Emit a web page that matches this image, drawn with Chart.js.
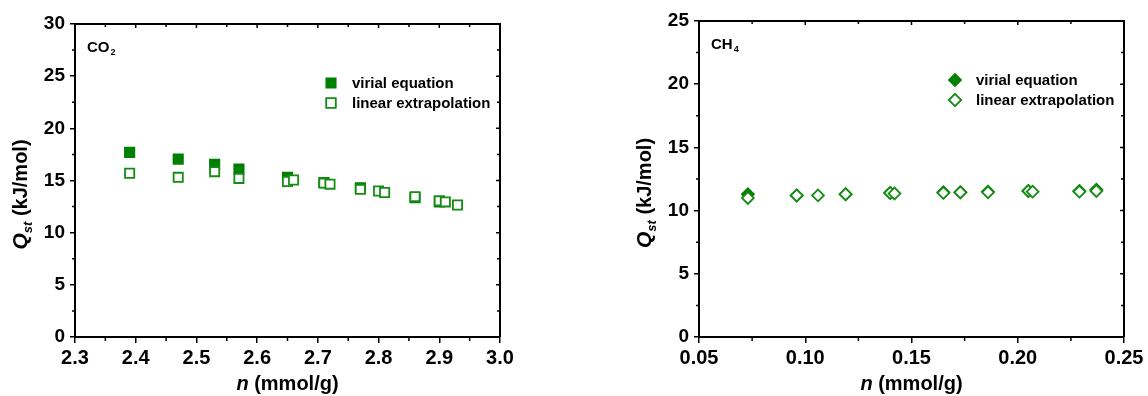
<!DOCTYPE html>
<html>
<head>
<meta charset="utf-8">
<script src="https://cdn.jsdelivr.net/npm/chart.js@4.4.0/dist/chart.umd.min.js"></script>
<style>
    html, body { margin: 0; padding: 0; background: #fff; }
    .panel { position: absolute; top: 0; width: 574px; height: 396px; }
    #co2-panel { left: 0; }
    #ch4-panel { left: 574px; }
</style>
</head>
<body>
<div class="panel" id="co2-panel"><canvas id="co2-chart"></canvas></div>
<div class="panel" id="ch4-panel"><canvas id="ch4-chart"></canvas></div>
<script>
    "use strict";

    // CO2 data (n in mmol/g, Qst in kJ/mol)
    const co2VirialN = [2.39, 2.47, 2.53, 2.57, 2.65, 2.71, 2.77, 2.86, 2.90];
    const co2VirialQ = [17.7, 17.05, 16.55, 16.1, 15.3, 14.8, 14.3, 13.35, 12.95];
    const co2LinearN = [2.39, 2.47, 2.53, 2.57, 2.65, 2.66, 2.71, 2.72, 2.77, 2.80, 2.81, 2.86, 2.90, 2.91, 2.93];
    const co2LinearQ = [15.7, 15.3, 15.85, 15.2, 14.9, 15.05, 14.75, 14.65, 14.15, 14.0, 13.85, 13.45, 13.05, 12.95, 12.65];

    // CH4 data
    const ch4VirialN = [0.073, 0.096, 0.119, 0.140, 0.165, 0.173, 0.186, 0.205, 0.229, 0.237];
    const ch4VirialQ = [11.3, 11.2, 11.3, 11.4, 11.45, 11.45, 11.5, 11.55, 11.55, 11.65];
    const ch4LinearN = [0.073, 0.096, 0.106, 0.119, 0.140, 0.142, 0.165, 0.173, 0.186, 0.205, 0.207, 0.229, 0.237];
    const ch4LinearQ = [11.0, 11.2, 11.2, 11.3, 11.4, 11.35, 11.4, 11.45, 11.45, 11.55, 11.5, 11.5, 11.55];

    // Axis ranges and labels
    const co2XRange = [2.3, 3.0, 0.1];
    const co2YRange = [0, 30, 5];
    const ch4XRange = [0.05, 0.25, 0.05];
    const ch4YRange = [0, 25, 5];
    const seriesNames = ['virial equation', 'linear extrapolation'];

    const FONT = '"Liberation Sans", Arial, sans-serif';
    const GREEN = 'rgb(0, 128, 0)';
    const GREEN_OPEN = 'rgb(20, 140, 20)';

    function toPoints(xs, ys) {
        return xs.map((v, i) => ({ x: v, y: ys[i] }));
    }

    // Draw a marker by hand (legend)
    function drawMarker(ctx, style, filled, x, y, r) {
        ctx.beginPath();
        if (style === 'rect') {
            const s = r * Math.SQRT1_2;
            ctx.rect(x - s, y - s, 2 * s, 2 * s);
        } else {
            ctx.moveTo(x - r, y);
            ctx.lineTo(x, y - r);
            ctx.lineTo(x + r, y);
            ctx.lineTo(x, y + r);
            ctx.closePath();
        }
        ctx.fillStyle = filled ? GREEN : '#fff';
        ctx.fill();
        ctx.lineWidth = filled ? 1.5 : 1.8;
        ctx.strokeStyle = filled ? GREEN : GREEN_OPEN;
        ctx.stroke();
    }

    // Draw pieces of text with different fonts one after another
    function drawRich(ctx, pieces, cx, cy, rotate) {
        ctx.save();
        ctx.translate(cx, cy);
        if (rotate) ctx.rotate(-Math.PI / 2);
        let total = 0;
        pieces.forEach(p => { ctx.font = p.font; total += ctx.measureText(p.t).width; });
        let x = -total / 2;
        ctx.fillStyle = '#000';
        ctx.textBaseline = 'alphabetic';
        ctx.textAlign = 'left';
        pieces.forEach(p => {
            ctx.font = p.font;
            ctx.fillText(p.t, x, p.dy || 0);
            x += ctx.measureText(p.t).width;
        });
        ctx.restore();
    }

    // Frame, mirrored ticks, minor ticks, titles, legend and species label
    const panelDecor = {
        id: 'panelDecor',
        afterDraw(chart, args, opts) {
            const { ctx, chartArea: a, scales: { x, y } } = chart;
            ctx.save();
            ctx.strokeStyle = '#000';
            ctx.lineWidth = 2;
            ctx.beginPath();
            ctx.moveTo(a.left, a.top);
            ctx.lineTo(a.right, a.top);
            ctx.lineTo(a.right, a.bottom);
            ctx.stroke();

            ctx.lineWidth = 1.5;
            ctx.beginPath();
            const xt = x.ticks.map(t => t.value);
            xt.forEach((v, i) => {
                const px = x.getPixelForValue(v);
                ctx.moveTo(px, a.top); ctx.lineTo(px, a.top + 4);
                if (i < xt.length - 1) {
                    const m = x.getPixelForValue((v + xt[i + 1]) / 2);
                    ctx.moveTo(m, a.bottom); ctx.lineTo(m, a.bottom + 4);
                    ctx.moveTo(m, a.top); ctx.lineTo(m, a.top + 3);
                }
            });
            const yt = y.ticks.map(t => t.value);
            yt.forEach((v, i) => {
                const py = y.getPixelForValue(v);
                ctx.moveTo(a.right, py); ctx.lineTo(a.right - 4, py);
                if (i < yt.length - 1) {
                    const m = y.getPixelForValue((v + yt[i + 1]) / 2);
                    ctx.moveTo(a.left, m); ctx.lineTo(a.left - 3, m);
                    ctx.moveTo(a.right, m); ctx.lineTo(a.right - 3, m);
                }
            });
            ctx.stroke();

            // axis titles
            drawRich(ctx, [
                { t: 'n', font: 'italic bold 20px ' + FONT },
                { t: ' (mmol/g)', font: 'bold 20px ' + FONT }
            ], (a.left + a.right) / 2, a.bottom + 53, false);
            drawRich(ctx, [
                { t: 'Q', font: 'italic bold 21px ' + FONT },
                { t: 'st', font: 'italic bold 13px ' + FONT, dy: 5 },
                { t: ' (kJ/mol)', font: 'bold 20px ' + FONT }
            ], a.left - 48, (a.top + a.bottom) / 2 + 14, true);

            // species label
            ctx.fillStyle = '#000';
            ctx.textAlign = 'left';
            ctx.textBaseline = 'alphabetic';
            ctx.font = 'bold 15px ' + FONT;
            const lx = a.left + 12, ly = a.top + 28;
            ctx.fillText(opts.species, lx, ly);
            const w = ctx.measureText(opts.species).width;
            ctx.font = 'bold 9px ' + FONT;
            ctx.fillText(opts.sub, lx + w + 1, ly + 3);

            // legend
            ctx.font = 'bold 15px ' + FONT;
            ctx.textBaseline = 'middle';
            seriesNames.forEach((name, i) => {
                const my = a.top + 59 + i * 20;
                const mx = a.right - 169;
                drawMarker(ctx, opts.marker, i === 0, mx, my, opts.marker === 'rect' ? 6.8 : 6.2);
                ctx.fillStyle = '#000';
                ctx.fillText(name, mx + 21, my + 1);
            });
            ctx.restore();
        }
    };

    function makeChart(canvasId, virial, linear, xr, yr, marker, species, sub, yWidth, padTop, padRight, decimals) {
        const r = marker === 'rect' ? 6.8 : 6.2;
        return new Chart(document.getElementById(canvasId), {
            type: 'scatter',
            data: {
                datasets: [{
                    label: seriesNames[0],
                    data: virial,
                    pointStyle: marker,
                    pointRadius: r,
                    backgroundColor: GREEN,
                    borderColor: GREEN,
                    borderWidth: 1.5,
                    order: 2
                }, {
                    label: seriesNames[1],
                    data: linear,
                    pointStyle: marker,
                    pointRadius: r - 0.3,
                    backgroundColor: '#fff',
                    borderColor: GREEN_OPEN,
                    borderWidth: 1.8,
                    order: 1
                }]
            },
            options: {
                responsive: true,
                maintainAspectRatio: false,
                animation: false,
                layout: { padding: { top: padTop, right: padRight, left: 0, bottom: 0 } },
                plugins: {
                    legend: { display: false },
                    tooltip: { enabled: false },
                    panelDecor: { marker: marker, species: species, sub: sub }
                },
                scales: {
                    x: {
                        type: 'linear',
                        min: xr[0],
                        max: xr[1],
                        afterFit: s => { s.height = 59; },
                        border: { display: true, color: '#000', width: 2 },
                        grid: { drawOnChartArea: false, tickLength: 6, tickColor: '#000', lineWidth: 1.5 },
                        ticks: {
                            stepSize: xr[2],
                            padding: 3,
                            color: '#000',
                            font: { family: FONT, size: 20, weight: 'bold' },
                            callback: v => Number(v).toFixed(decimals)
                        }
                    },
                    y: {
                        type: 'linear',
                        min: yr[0],
                        max: yr[1],
                        afterFit: s => { s.width = yWidth; },
                        border: { display: true, color: '#000', width: 2 },
                        grid: { drawOnChartArea: false, tickLength: 5, tickColor: '#000', lineWidth: 1.5 },
                        ticks: {
                            stepSize: yr[2],
                            padding: 5,
                            color: '#000',
                            font: { family: FONT, size: 19, weight: 'bold' }
                        }
                    }
                }
            },
            plugins: [panelDecor]
        });
    }

    makeChart('co2-chart', toPoints(co2VirialN, co2VirialQ), toPoints(co2LinearN, co2LinearQ),
        co2XRange, co2YRange, 'rect', 'CO', '2', 75, 24, 74, 1);
    makeChart('ch4-chart', toPoints(ch4VirialN, ch4VirialQ), toPoints(ch4LinearN, ch4LinearQ),
        ch4XRange, ch4YRange, 'rectRot', 'CH', '4', 125, 21, 24, 2);
</script>
</body>
</html>
